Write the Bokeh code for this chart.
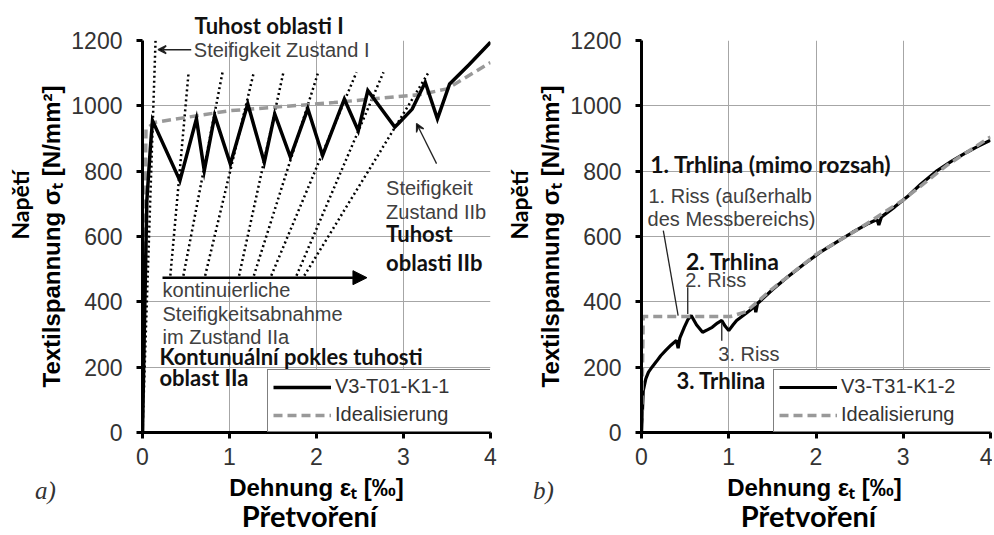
from math import pi
from bokeh.plotting import figure
from bokeh.models import (Range1d, FixedTicker, Label, Arrow, VeeHead, NormalHead, Legend,
                          LegendItem, Title)
from bokeh.layouts import row, column
from bokeh.embed import file_html
from bokeh.resources import INLINE

# ---------------- data ----------------
x_ticks = [0, 1, 2, 3, 4]
y_ticks = [0, 200, 400, 600, 800, 1000, 1200]

# panel a) test curve V3-T01-K1-1
a_test_strain = [0, 0.02, 0.05, 0.09, 0.115, 0.43, 0.62, 0.71, 0.83, 1.01, 1.21, 1.40, 1.52, 1.70,
                 1.90, 2.07, 2.32, 2.48, 2.59, 2.90, 2.95, 3.10, 3.25, 3.39, 3.53, 3.75, 4.0]
a_test_stress = [0, 300, 710, 870, 955, 771, 960, 802, 970, 822, 1006, 827, 975, 843,
                 991, 848, 1021, 924, 1047, 935, 948, 990, 1072, 960, 1067, 1125, 1195]
# panel a) idealisation
a_ideal_strain = [0, 0.04, 0.15, 1.0, 2.2, 3.2, 3.5, 4.0]
a_ideal_stress = [0, 930, 950, 985, 1010, 1035, 1052, 1133]
# panel a) stiffness lines (dotted)
a_stiff_I_x = [0.0, 0.15]
a_stiff_I_y = [0, 1200]
a_stiff_x0 = [0.32, 0.47, 0.72, 1.11, 1.28, 1.48, 1.77, 1.86]
a_stiff_x1 = [0.53, 0.92, 1.28, 1.62, 2.02, 2.46, 2.77, 3.29]
a_stiff_y0 = [480] * 8
a_stiff_y1 = [1103] * 8

# panel b) test curve V3-T31-K1-2
b_test_strain = [0, 0.01, 0.02, 0.05, 0.08, 0.12, 0.17, 0.22, 0.28, 0.34, 0.40, 0.42, 0.44, 0.49,
                 0.53, 0.57, 0.63, 0.70, 0.76, 0.81, 0.87, 0.92, 0.96, 1.0, 1.05, 1.09, 1.2,
                 1.30, 1.31, 1.33, 1.5, 1.67, 1.85, 2.05, 2.25, 2.42, 2.6, 2.70, 2.72, 2.75,
                 2.9, 3.06, 3.2, 3.39, 3.55, 3.73, 3.85, 4.0]
b_test_stress = [0, 60, 128, 165, 185, 200, 217, 235, 252, 268, 282, 258, 290, 322,
                 345, 358, 330, 307, 315, 322, 335, 343, 325, 312, 330, 343, 365,
                 386, 368, 395, 437, 475, 513, 552, 585, 613, 640, 652, 635, 660,
                 690, 725, 760, 802, 830, 858, 875, 895]
# panel b) idealisation
b_ideal_strain = [0, 0.02, 1.02, 1.2, 1.5, 2.0, 2.5, 3.0, 3.5, 4.0]
b_ideal_stress = [0, 355, 355, 370, 440, 545, 625, 712, 818, 905]

# ---------------- styling helpers ----------------
SANS = "Liberation Sans"
CAL = "Lato"
GREY_TXT = "#404040"
BOLD_TXT = "#111111"


def make_fig(width, mb_left, mb_right):
    p = figure(width=width, height=472, x_range=Range1d(0, 4), y_range=Range1d(0, 1200),
               output_backend="svg", toolbar_location=None, title=None,
               min_border_left=mb_left, min_border_right=mb_right,
               min_border_top=40, min_border_bottom=40,
               background_fill_color="white", border_fill_color="white",
               outline_line_color=None)
    for ax, ticks in ((p.xaxis, x_ticks), (p.yaxis, y_ticks)):
        ax.ticker = FixedTicker(ticks=ticks)
        ax.axis_line_width = 3
        ax.axis_line_color = "black"
        ax.major_tick_line_width = 3
        ax.major_tick_line_color = "black"
        ax.major_tick_out = 6
        ax.major_tick_in = 0
        ax.minor_tick_line_color = None
        ax.major_label_text_font = SANS
        ax.major_label_text_font_size = "23px"
        ax.major_label_text_color = "#333333"
    p.xaxis.major_label_standoff = 9
    p.yaxis.major_label_standoff = 14
    # y axis title (second line of the two-language label)
    p.yaxis.axis_label = "Textilspannung σₜ [N/mm²]"
    p.yaxis.axis_label_text_font = SANS
    p.yaxis.axis_label_text_font_size = "24px"
    p.yaxis.axis_label_text_font_style = "bold"
    p.yaxis.axis_label_text_color = "black"
    p.yaxis.axis_label_standoff = 3
    # Czech y title, further out
    p.add_layout(Title(text="Napětí", align="right", offset=130, standoff=4,
                       text_font=CAL, text_font_size="23px", text_font_style="bold",
                       text_color="black"), "left")
    p.grid.grid_line_color = "#a6a6a6"
    p.grid.grid_line_width = 1
    return p


def text_fig(width, height, xr, yr):
    f = figure(width=width, height=height, x_range=Range1d(*xr), y_range=Range1d(*yr),
               output_backend="svg", toolbar_location=None, title=None, min_border=0,
               x_axis_location=None, y_axis_location=None, outline_line_color=None,
               background_fill_color="white", border_fill_color="white")
    f.grid.visible = False
    return f


def txt(p, x, y, text, font=SANS, size="20px", color=GREY_TXT, bold=False,
        align="left", angle=0.0, italic=False):
    style = "normal"
    if bold:
        style = "bold"
    elif italic:
        style = "italic"
    p.add_layout(Label(x=x, y=y, text=text, text_font=font, text_font_size=size,
                       text_color=color, text_font_style=style, text_align=align,
                       text_baseline="middle", angle=angle))


def add_legend(p, r_test, r_ideal, name, loc_x, label_w):
    lg = Legend(items=[LegendItem(label=name, renderers=[r_test]),
                       LegendItem(label="Idealisierung", renderers=[r_ideal])],
                location=(loc_x, 0), orientation="vertical",
                glyph_width=58, glyph_height=20, label_height=20, label_width=label_w,
                spacing=5, padding=5, label_standoff=4,
                label_text_font=SANS, label_text_font_size="20px",
                label_text_color="#333333",
                border_line_color="black", border_line_width=1.5,
                background_fill_color="white", background_fill_alpha=1.0)
    p.add_layout(lg)


def bottom_titles(f, xc_dehn, xc_pret, xc_letter, letter):
    txt(f, xc_dehn, 487, "Dehnung εₜ [‰]", font=SANS, size="24px", color="black",
        bold=True, align="center")
    txt(f, xc_pret, 515, "Přetvoření", font=CAL, size="29px", color="black",
        bold=True, align="center")
    txt(f, xc_letter, 490, letter, font="Liberation Serif", size="25px", color="#333333",
        italic=True, align="center")


# ---------------- panel a ----------------
pa = make_fig(500, 142, 10)
pa.add_layout(Title(text="Tuhost oblasti I", align="left", offset=52, standoff=4,
                    text_font=CAL, text_font_size="22px", text_font_style="bold",
                    text_color=BOLD_TXT), "above")
pa.line(a_stiff_I_x, a_stiff_I_y, line_color="black", line_width=2.5, line_dash="2 3")
pa.segment(x0=a_stiff_x0, y0=a_stiff_y0, x1=a_stiff_x1, y1=a_stiff_y1,
           line_color="black", line_width=2.5, line_dash="2 3")
ra_ideal = pa.line(a_ideal_strain, a_ideal_stress, line_color="#999999", line_width=3.5,
                   line_dash="9 5")
ra_test = pa.line(a_test_strain, a_test_stress, line_color="black", line_width=3.5,
                  line_join="miter")
add_legend(pa, ra_test, ra_ideal, "V3-T01-K1-1", 125, 150)

txt(pa, 0.59, 1172, "Steifigkeit Zustand I")
pa.add_layout(Arrow(x_start=0.56, y_start=1172, x_end=0.18, y_end=1172,
                    line_color="#222222", line_width=1.5,
                    end=VeeHead(size=8, line_color="#222222", line_width=1.5)))
txt(pa, 2.80, 747, "Steifigkeit")
txt(pa, 2.80, 676, "Zustand IIb")
pa.add_layout(Arrow(x_start=3.38, y_start=823, x_end=3.15, y_end=946,
                    line_color="#222222", line_width=1.3,
                    end=VeeHead(size=8, line_color="#222222", line_width=1.3)))
txt(pa, 2.80, 609, "Tuhost", font=CAL, size="22px", color=BOLD_TXT, bold=True)
txt(pa, 2.80, 520, "oblasti IIb", font=CAL, size="22px", color=BOLD_TXT, bold=True)
pa.add_layout(Arrow(x_start=0.23, y_start=474, x_end=2.58, y_end=474,
                    line_color="black", line_width=2.5,
                    end=NormalHead(size=14, fill_color="black", line_color="black")))
txt(pa, 0.23, 435, "kontinuierliche")
txt(pa, 0.23, 364, "Steifigkeitsabnahme")
txt(pa, 0.23, 291, "im Zustand IIa")
txt(pa, 0.195, 232, "Kontunuální pokles tuhosti", font=CAL, size="22px", color=BOLD_TXT,
    bold=True)
txt(pa, 0.195, 168, "oblast IIa", font=CAL, size="22px", color=BOLD_TXT, bold=True)

ba = text_fig(500, 62, (0, 500), (534, 472))
bottom_titles(ba, 316, 309, 45, "a)")

# ---------------- panel b ----------------
pb = make_fig(492, 138, 2)
rb_test = pb.line(b_test_strain, b_test_stress, line_color="black", line_width=3.2)
rb_ideal = pb.line(b_ideal_strain, b_ideal_stress, line_color="#999999", line_width=3.5,
                   line_dash="9 5")
add_legend(pb, rb_test, rb_ideal, "V3-T31-K1-2", 132, 144)

txt(pb, 0.10, 823, "1. Trhlina (mimo rozsah)", font=CAL, size="23px", color=BOLD_TXT,
    bold=True)
txt(pb, 0.08, 725, "1. Riss (außerhalb")
txt(pb, 0.07, 654, "des Messbereichs)")
pb.segment(x0=[0.25, 0.53, 0.92], y0=[618, 445, 338], x1=[0.42, 0.53, 0.92],
           y1=[358, 363, 281], line_color="#222222", line_width=1.3)
txt(pb, 0.51, 526, "2. Trhlina", font=CAL, size="23px", color=BOLD_TXT, bold=True)
txt(pb, 0.50, 468, "2. Riss")
txt(pb, 0.88, 241, "3. Riss")
txt(pb, 0.40, 159, "3. Trhlina", font=CAL, size="22px", color=BOLD_TXT, bold=True)

bb = text_fig(492, 62, (500, 992), (534, 472))
bottom_titles(bb, 814, 808, 543, "b)")

layout = row(column(row(pa), row(ba)), column(row(pb), row(bb)))
open("out.html", "w").write(file_html(layout, INLINE))
